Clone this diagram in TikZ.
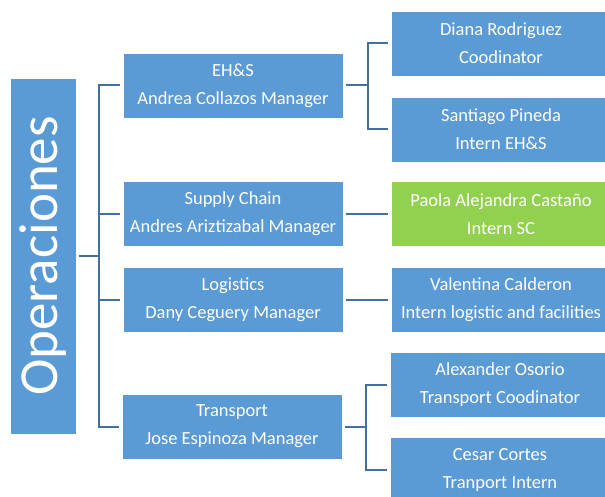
\documentclass[tikz,border=0pt]{standalone}
\usepackage{fontspec}
\setmainfont{Carlito}
\definecolor{boxblue}{HTML}{5B9BD5}
\definecolor{boxgreen}{HTML}{92D050}
\definecolor{linkblue}{HTML}{41719C}
\begin{document}
\begin{tikzpicture}[x=1pt,y=-1pt,
  box/.style={fill=boxblue, draw=white, line width=0.8pt, minimum width=220pt, minimum height=65pt, inner sep=0pt, text=white, align=center, font=\fontsize{18.5}{28}\selectfont},
  link/.style={draw=linkblue, line width=2pt, shorten <=2.5pt, shorten >=2.5pt}]
\useasboundingbox (0,0) rectangle (605,497);
\clip (0,0) rectangle (605,497);
\node[box, minimum width=66pt, minimum height=356pt] (root) at (43,256) {};
\node[text=white, rotate=90, inner sep=0pt, font=\fontsize{55}{60}\selectfont] (roottext) at (root.center) {Operaciones};
\node[box] (ehs) at (233,85.5) {EH\&S\\Andrea Collazos Manager};
\node[box] (sc) at (233,214) {Supply Chain\\Andres Ariztizabal Manager};
\node[box] (log) at (233,299.5) {Logistics\\Dany Ceguery Manager};
\node[box] (tr) at (232,426.5) {Transport\\Jose Espinoza Manager};
\node[box] (diana) at (501,43.5) {Diana Rodriguez\\Coodinator};
\node[box] (sant) at (501,129.5) {Santiago Pineda\\Intern EH\&S};
\node[box, fill=boxgreen] (paola) at (501,214) {Paola Alejandra Castaño\\Intern SC};
\node[box] (val) at (501,299.5) {Valentina Calderon\\Intern logistic and facilities};
\node[box] (alex) at (500,384.5) {Alexander Osorio\\Transport Coodinator};
\node[box] (cesar) at (500,469.5) {Cesar Cortes\\Tranport Intern};
\foreach \c in {ehs,sc,log,tr}
  \draw[link] (root.east) -- ++(23,0) |- (\c.west);
\foreach \c in {diana,sant}
  \draw[link] (ehs.east) -- ++(25,0) |- (\c.west);
\draw[link] (sc.east) -- (paola.west);
\draw[link] (log.east) -- (val.west);
\foreach \c in {alex,cesar}
  \draw[link] (tr.east) -- ++(24,0) |- (\c.west);
\end{tikzpicture}
\end{document}
